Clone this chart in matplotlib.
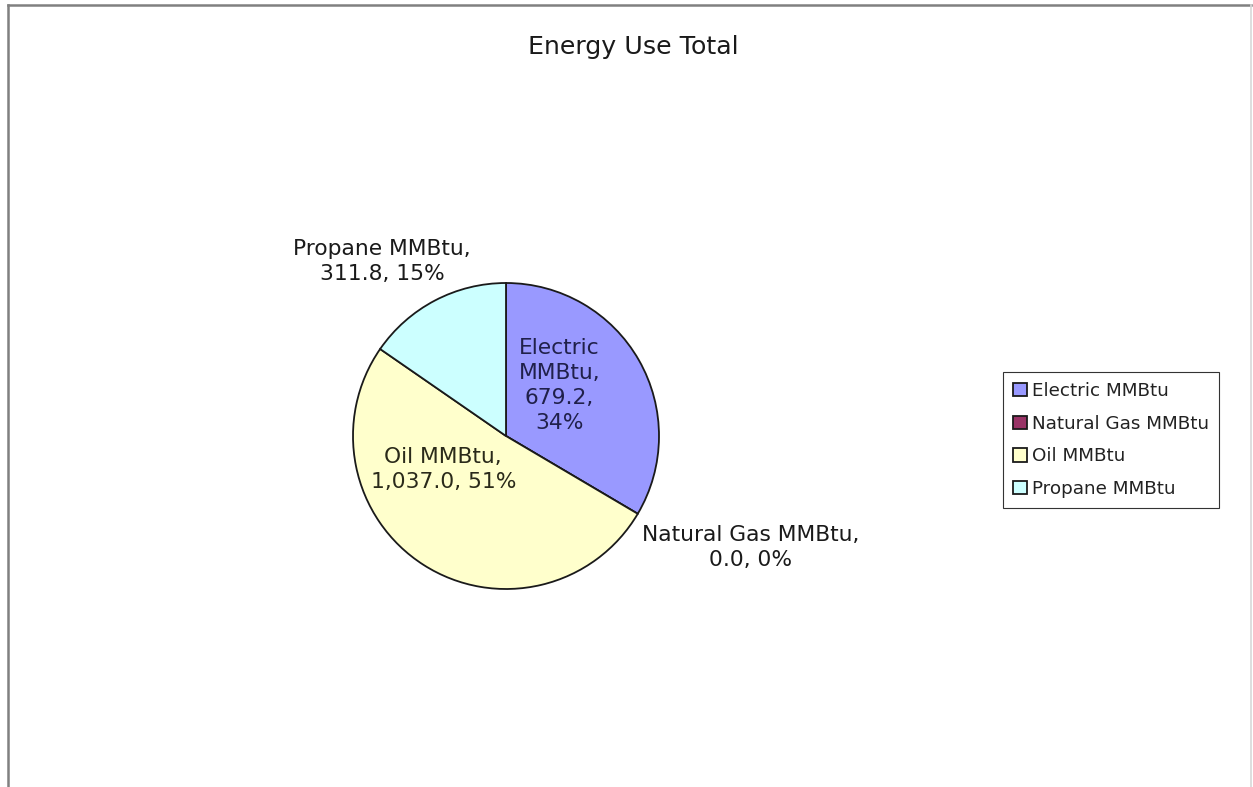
import matplotlib
matplotlib.use('Agg')
import matplotlib.pyplot as plt
from matplotlib.lines import Line2D

# data
names = ['Electric MMBtu', 'Natural Gas MMBtu', 'Oil MMBtu', 'Propane MMBtu']
values = [679.2, 0.0, 1037.0, 311.8]
pct_shown = [34, 0, 51, 15]
colors = ['#9999FF', '#993366', '#FFFFCC', '#CCFFFF']

W, H = 1253, 787
fig = plt.figure(figsize=(W / 100, H / 100), dpi=100)
plt.rcParams['font.family'] = ['DejaVu Sans']

# pie centre and radius in pixels
cx, cy, r = 506, 436, 153
ax = fig.add_axes([(cx - r) / W, (H - cy - r) / H, 2 * r / W, 2 * r / H])
wedges, _ = ax.pie(values, colors=colors, startangle=90, counterclock=False,
                   radius=1, wedgeprops=dict(edgecolor='#1a1a1a', linewidth=1.3))
ax.set_xlim(-1, 1)
ax.set_ylim(-1, 1)
ax.set_aspect('equal')
ax.axis('off')

# label texts
texts = [
    '{},\n{:,.1f},\n{}%'.format(names[0].replace(' ', '\n'), values[0], pct_shown[0]),
    '{},\n{:,.1f}, {}%'.format(names[1], values[1], pct_shown[1]),
    '{},\n{:,.1f}, {}%'.format(names[2], values[2], pct_shown[2]),
    '{},\n{:,.1f}, {}%'.format(names[3], values[3], pct_shown[3]),
]
label_pos = [(0.35, 0.33), (1.60, -0.73), (-0.41, -0.22), (-0.81, 1.14)]
label_col = ['#20204a', '#1a1a1a', '#2a2a1a', '#1a1a1a']
for t, (x, y), c in zip(texts, label_pos, label_col):
    ax.text(x, y, t, ha='center', va='center', multialignment='center',
            fontsize=15.7, color=c, linespacing=1.3)

fig.text(633 / W, 1 - 54 / H, 'Energy Use Total', ha='center', va='baseline',
         fontsize=18.2, color='#1a1a1a')

leg = fig.legend(wedges, names, loc='upper left',
                 bbox_to_anchor=(1003 / W, 1 - 372 / H), borderaxespad=0,
                 fontsize=13.2, fancybox=False, framealpha=1, edgecolor='#333333',
                 handlelength=0.75, handleheight=0.75, handletextpad=0.3,
                 labelspacing=0.8, borderpad=0.55)
leg.get_frame().set_linewidth(0.8)
for t in leg.get_texts():
    t.set_color('#222222')

# outer chart border (top and left darker, right faint)
fig.add_artist(Line2D([8 / W, 1251 / W], [1 - 5 / H, 1 - 5 / H],
                      transform=fig.transFigure, color='#808080', linewidth=1.8))
fig.add_artist(Line2D([8 / W, 8 / W], [0, 1 - 5 / H],
                      transform=fig.transFigure, color='#808080', linewidth=1.8))
fig.add_artist(Line2D([1251 / W, 1251 / W], [0, 1 - 5 / H],
                      transform=fig.transFigure, color='#d8d8d8', linewidth=1.2))

fig.savefig('out.png', dpi=100)
